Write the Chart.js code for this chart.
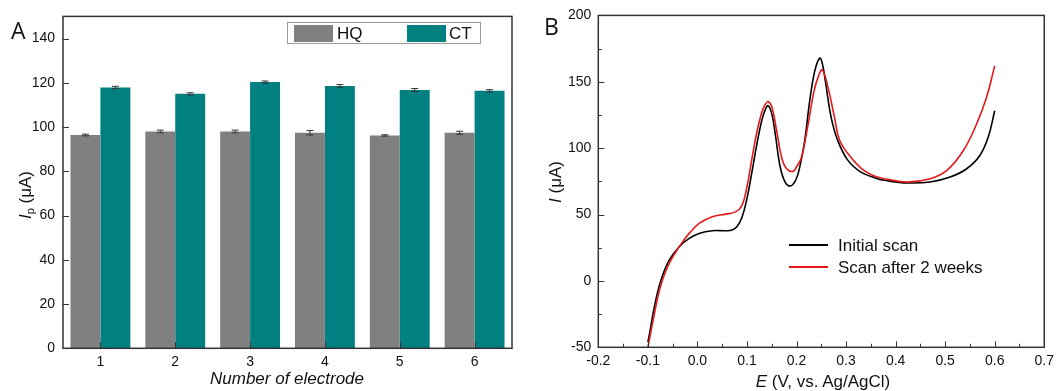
<!DOCTYPE html>
<html>
<head>
<meta charset="utf-8">
<script src="https://cdn.jsdelivr.net/npm/chart.js@4.4.1/dist/chart.umd.min.js"></script>
<style>
  body { margin: 0; background: #fff; }
  #wrap { position: relative; width: 1059px; height: 391px; overflow: hidden; font-family: "Liberation Sans", Arial, sans-serif; color: #111; }
  canvas { position: absolute; top: 0; }
  .lbl { position: absolute; white-space: nowrap; font-size: 17px; line-height: 1; }
  .rot { transform: translate(-50%, -50%) rotate(-90deg); }
  .ctr { transform: translate(-50%, -50%); }
  .panel { position: absolute; font-family: "Open Sans", sans-serif; font-size: 23px; line-height: 1; }
  sub { font-size: 11px; vertical-align: -3px; }
  #legA { position: absolute; left: 287px; top: 22px; width: 194px; height: 22px; border: 1px solid #999; box-sizing: border-box; }
  .sw { position: absolute; top: 2px; width: 39px; height: 17px; }
  .lt { position: absolute; top: 2px; font-size: 17px; line-height: 17px; }
  .ln { position: absolute; width: 39px; height: 2px; }
</style>
</head>
<body>
<div id="wrap">
  <canvas id="chartA" width="525" height="391" style="left:0"></canvas>
  <canvas id="chartB" width="534" height="391" style="left:525px"></canvas>

  <div class="panel" style="left:11px; top:19px;">A</div>
  <div class="panel" style="left:544px; top:15px;">B</div>

  <div class="lbl rot" style="left:26px; top:195px;"><i>I</i><sub>p</sub> (μA)</div>
  <div class="lbl ctr" style="left:287px; top:378px;"><i>Number of electrode</i></div>
  <div class="lbl rot" style="left:555px; top:182px;"><i>I</i> (μA)</div>
  <div class="lbl ctr" style="left:823px; top:381px;"><i>E</i> (V, vs. Ag/AgCl)</div>

  <div id="legA">
    <div class="sw" style="left:6px; background:#808080"></div>
    <div class="lt" style="left:49px;">HQ</div>
    <div class="sw" style="left:119px; background:#008080"></div>
    <div class="lt" style="left:161px;">CT</div>
  </div>

  <div class="ln" style="left:789px; top:244px; background:#000"></div>
  <div class="lbl" style="left:838px; top:237px;">Initial scan</div>
  <div class="ln" style="left:789px; top:266px; background:#e3191c"></div>
  <div class="lbl" style="left:838px; top:259px;">Scan after 2 weeks</div>
</div>

<script>
// panel A: peak currents per electrode
const electrodes = ['1', '2', '3', '4', '5', '6'];
const hqValues = [96.4, 98.0, 98.0, 97.4, 96.2, 97.4];
const hqErrors = [0.4, 0.6, 0.6, 1.0, 0.3, 0.7];
const ctValues = [117.9, 115.0, 120.3, 118.6, 116.7, 116.4];
const ctErrors = [0.5, 0.5, 0.5, 0.6, 0.7, 0.5];
const yTicksA = [0, 20, 40, 60, 80, 100, 120, 140];

// panel B: DPV scans
const initialE = [-0.1, -0.0974, -0.0866, -0.0733, -0.0566, -0.0366, -0.0166, 0.0034, 0.03, 0.0568, 0.07, 0.08, 0.09, 0.1, 0.11, 0.12, 0.13, 0.137, 0.1425, 0.15, 0.157, 0.167, 0.177, 0.188, 0.197, 0.2034, 0.21, 0.2168, 0.2268, 0.2368, 0.2467, 0.252, 0.258, 0.27, 0.283, 0.3034, 0.33, 0.3634, 0.3768, 0.4234, 0.47, 0.51, 0.5434, 0.57, 0.5868, 0.6];
const initialI = [-46, -41.5, -19, 0.8, 15.8, 25.8, 32, 35.8, 37.8, 37.8, 38.3, 41, 48, 62, 82, 103, 121, 129, 132, 126, 111, 86, 74.5, 71.5, 75, 81, 92, 106, 136, 158, 167.8, 164, 151, 123, 106, 91, 82, 77, 75.8, 73.8, 74.5, 78.2, 84.5, 94.5, 108.2, 128.2];
const afterE = [-0.1, -0.089, -0.0766, -0.06, -0.0366, -0.0166, 0.0034, 0.03, 0.0568, 0.0768, 0.09, 0.1, 0.11, 0.12, 0.13, 0.137, 0.1435, 0.151, 0.16, 0.17, 0.18, 0.193, 0.2, 0.21, 0.2234, 0.2354, 0.245, 0.252, 0.2634, 0.2768, 0.287, 0.31, 0.3368, 0.3634, 0.3768, 0.4234, 0.47, 0.5034, 0.5368, 0.5634, 0.5834, 0.6];
const afterI = [-50, -29, -7, 10.8, 25.8, 35.8, 43.3, 48.3, 50.3, 52, 57, 71, 92, 112, 127, 133, 135, 130, 113, 93, 84.5, 82.5, 86, 93, 118, 143, 155, 159, 146, 123, 106, 93, 83, 78.2, 77, 74.5, 77, 83.2, 98.2, 118.2, 138.2, 162];
const xTicksB = [-0.2, -0.1, 0.0, 0.1, 0.2, 0.3, 0.4, 0.5, 0.6, 0.7];
const yTicksB = [-50, 0, 50, 100, 150, 200];

const tickFont = { family: '"Liberation Sans", Arial, sans-serif', size: 14 };

// box round the plot plus ticks pointing inward
const frameTicks = {
  id: 'frameTicks',
  afterDraw(chart, args, opts) {
    const { ctx, chartArea: a, scales } = chart;
    ctx.save();
    ctx.strokeStyle = '#333';
    ctx.lineWidth = 1;
    const seg = (x1, y1, x2, y2) => { ctx.beginPath(); ctx.moveTo(x1, y1); ctx.lineTo(x2, y2); ctx.stroke(); };
    (opts.xMajor || []).forEach(v => { const p = Math.round(scales.x.getPixelForValue(v)) + 0.5; seg(p, a.bottom, p, a.bottom - 6); });
    (opts.xMinor || []).forEach(v => { const p = Math.round(scales.x.getPixelForValue(v)) + 0.5; seg(p, a.bottom, p, a.bottom - 3.5); });
    (opts.yMajor || []).forEach(v => { const p = Math.round(scales.y.getPixelForValue(v)) + 0.5; seg(a.left, p, a.left + 6, p); });
    (opts.yMinor || []).forEach(v => { const p = Math.round(scales.y.getPixelForValue(v)) + 0.5; seg(a.left, p, a.left + 3.5, p); });
    ctx.lineWidth = 1.5;
    ctx.strokeRect(a.left, a.top, a.right - a.left, a.bottom - a.top);
    ctx.restore();
  }
};

// error bars on top of the bars
const errorBars = {
  id: 'errorBars',
  afterDatasetsDraw(chart, args, opts) {
    const { ctx, scales } = chart;
    ctx.save();
    ctx.strokeStyle = '#333';
    ctx.lineWidth = 1;
    opts.errors.forEach((errs, i) => {
      const vals = chart.data.datasets[i].data;
      chart.getDatasetMeta(i).data.forEach((bar, j) => {
        const top = scales.y.getPixelForValue(vals[j] + errs[j]);
        const bot = scales.y.getPixelForValue(vals[j] - errs[j]);
        ctx.beginPath();
        ctx.moveTo(bar.x, top); ctx.lineTo(bar.x, bot);
        ctx.moveTo(bar.x - 3.5, top); ctx.lineTo(bar.x + 3.5, top);
        ctx.moveTo(bar.x - 3.5, bot); ctx.lineTo(bar.x + 3.5, bot);
        ctx.stroke();
      });
    });
    ctx.restore();
  }
};

new Chart(document.getElementById('chartA'), {
  type: 'bar',
  data: {
    labels: electrodes,
    datasets: [
      { label: 'HQ', data: hqValues, backgroundColor: '#808080' },
      { label: 'CT', data: ctValues, backgroundColor: '#008080' },
    ]
  },
  options: {
    responsive: false,
    animation: false,
    devicePixelRatio: 1,
    categoryPercentage: 0.8,
    barPercentage: 1.0,
    layout: { padding: { top: 14, right: 13, left: 0, bottom: 0 } },
    plugins: {
      legend: { display: false },
      tooltip: { enabled: false },
      frameTicks: { xMajor: [0, 1, 2, 3, 4, 5], yMajor: yTicksA },
      errorBars: { errors: [hqErrors, ctErrors] },
    },
    scales: {
      x: {
        grid: { display: false, drawTicks: false },
        border: { display: false },
        ticks: { color: '#111', font: tickFont, padding: 5 },
        afterFit(s) { s.height = 42.7; },
      },
      y: {
        min: 0,
        max: 150,
        grid: { display: false, drawTicks: false },
        border: { display: false },
        ticks: { color: '#111', font: tickFont, padding: 8 },
        afterBuildTicks(s) { s.ticks = yTicksA.map(v => ({ value: v })); },
        afterFit(s) { s.width = 63; },
      }
    }
  },
  plugins: [frameTicks, errorBars]
});

const minorOf = (arr) => arr.slice(1).map((v, i) => (v + arr[i]) / 2);

new Chart(document.getElementById('chartB'), {
  type: 'line',
  data: {
    datasets: [
      {
        label: 'Scan after 2 weeks',
        data: afterE.map((e, i) => ({ x: e, y: afterI[i] })),
        borderColor: '#e3191c',
        borderWidth: 1.6,
        pointRadius: 0,
        tension: 0.4,
      },
      {
        label: 'Initial scan',
        data: initialE.map((e, i) => ({ x: e, y: initialI[i] })),
        borderColor: '#000',
        borderWidth: 1.6,
        pointRadius: 0,
        tension: 0.4,
      },
    ]
  },
  options: {
    responsive: false,
    animation: false,
    devicePixelRatio: 1,
    clip: { left: 0, top: 0, right: 0, bottom: 1 },
    layout: { padding: { top: 14, right: 10.7, left: 0, bottom: 0 } },
    plugins: {
      legend: { display: false },
      tooltip: { enabled: false },
      frameTicks: { xMajor: xTicksB, xMinor: minorOf(xTicksB), yMajor: yTicksB, yMinor: minorOf(yTicksB) },
    },
    scales: {
      x: {
        type: 'linear',
        min: -0.2,
        max: 0.7,
        grid: { display: false, drawTicks: false },
        border: { display: false },
        ticks: { color: '#111', font: tickFont, padding: 5, autoSkip: false, callback: v => v.toFixed(1) },
        afterBuildTicks(s) { s.ticks = xTicksB.map(v => ({ value: v })); },
        afterFit(s) { s.height = 43.7; },
      },
      y: {
        min: -50,
        max: 200,
        grid: { display: false, drawTicks: false },
        border: { display: false },
        ticks: { color: '#111', font: tickFont, padding: 7 },
        afterBuildTicks(s) { s.ticks = yTicksB.map(v => ({ value: v })); },
        afterFit(s) { s.width = 73.3; },
      }
    }
  },
  plugins: [frameTicks]
});
</script>
</body>
</html>
